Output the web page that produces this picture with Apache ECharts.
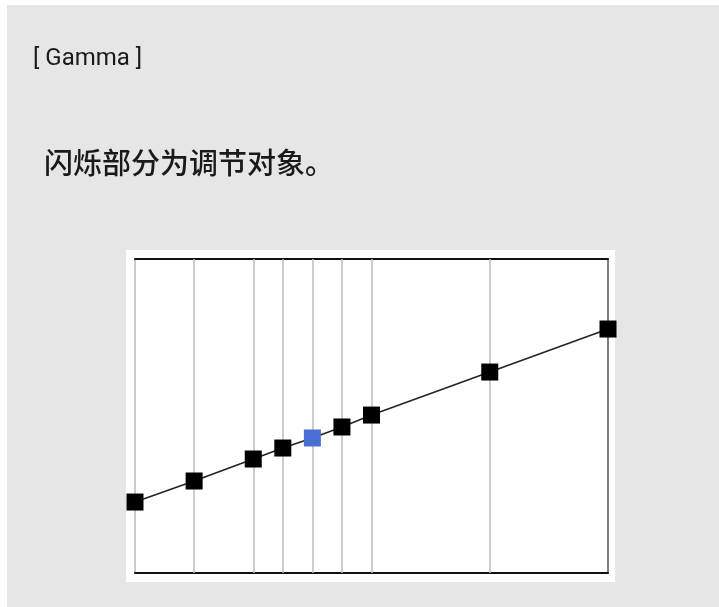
<!DOCTYPE html>
<html>
<head>
<meta charset="utf-8">
<script src="https://cdn.jsdelivr.net/npm/echarts@6/dist/echarts.min.js"></script>
<style>
html,body{margin:0;padding:0;background:#fff;}
#chart{width:719px;height:607px;}
</style>
</head>
<body>
<div id="chart"></div>
<script>
// gamma points: position along the x axis and level
var xs = [0, 1, 2, 2.5, 3, 3.5, 4, 6, 8];
var levels = [22.6, 29.3, 36.3, 39.8, 43.0, 46.5, 50.3, 64.0, 77.7];
var activeIndex = 4; // the blinking point (blue)
var titleText = '[ Gamma ]';
var noteText = '闪烁部分为调节对象。';

var myChart = echarts.init(document.getElementById('chart'));

var points = xs.map(function (x, i) {
  return {
    value: [x, levels[i]],
    itemStyle: { color: i === activeIndex ? '#4a6fd2' : '#000' }
  };
});

function frameAxis(pos, color, width) {
  var horizontal = pos === 'top' || pos === 'bottom';
  return {
    type: 'value', min: 0,
    max: horizontal ? 8 : 100,
    position: pos,
    axisLine: { show: true, onZero: false, lineStyle: { color: color, width: width } },
    axisTick: { show: false }, axisLabel: { show: false }, splitLine: { show: false }
  };
}

myChart.setOption({
  animation: false,
  graphic: [
    // grey panel
    { type: 'rect', z: -10, shape: { x: 7, y: 5, width: 712, height: 602 }, style: { fill: '#e6e6e6' } },
    // white chart box
    { type: 'rect', z: -9, shape: { x: 126, y: 250, width: 489, height: 332 }, style: { fill: '#fff' } },
    {
      type: 'text', left: 33, top: 47,
      style: { text: titleText, font: '24px Roboto', fill: '#1a1a1a' }
    },
    {
      type: 'text', left: 44, top: 148,
      style: { text: noteText, font: '500 29px "Noto Sans CJK SC"', fill: '#1a1a1a' }
    }
  ],
  grid: { left: 135, top: 259, width: 473, height: 314 },
  xAxis: [
    frameAxis('bottom', '#111', 2),
    frameAxis('top', '#111', 2)
  ],
  yAxis: [
    frameAxis('left', '#b8b8b8', 1.5),
    frameAxis('right', '#555', 1.5)
  ],
  series: [
    {
      type: 'line',
      data: points,
      clip: false,
      symbol: 'rect',
      symbolSize: 17,
      lineStyle: { color: '#222', width: 1.5 },
      z: 5,
      markLine: {
        silent: true,
        symbol: 'none',
        label: { show: false },
        lineStyle: { color: '#bdbdbd', width: 1.5, type: 'solid' },
        data: xs.slice(1, -1).map(function (x) { return { xAxis: x }; }),
        z: 1
      }
    }
  ]
});
</script>
</body>
</html>
